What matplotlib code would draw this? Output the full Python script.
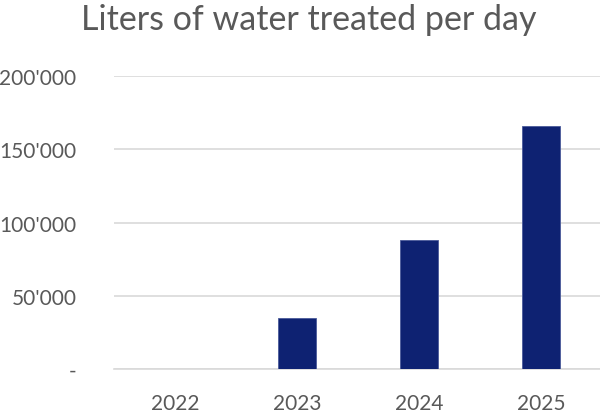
import matplotlib
matplotlib.use("Agg")
import matplotlib.pyplot as plt
from matplotlib.ticker import FuncFormatter

# data
years = ["2022", "2023", "2024", "2025"]
liters = [0, 34800, 88000, 166000]
yticks = [0, 50000, 100000, 150000, 200000]

plt.rcParams['font.family'] = ['Lato', 'DejaVu Sans']

fig = plt.figure(figsize=(6.0, 4.14), dpi=100)
ax = fig.add_axes([0.19, 0.106, 0.813, 0.708])

x = range(len(years))
ax.bar(x, liters, width=0.31, color="#0E2272", edgecolor="#4A5A9A", linewidth=0.6, zorder=3)

ax.set_xlim(-0.5, len(years) - 0.5)
ax.set_ylim(0, 200000)
ax.set_yticks(yticks)
ax.yaxis.set_major_formatter(FuncFormatter(lambda v, p: "-" if v == 0 else f"{int(v):,}".replace(",", "'")))
ax.set_xticks(list(x))
ax.set_xticklabels(years)

ax.grid(axis="y", color="#D9D9D9", linewidth=1.2, zorder=0)
for s in ["top", "right", "left"]:
    ax.spines[s].set_visible(False)
ax.spines["bottom"].set_color("#D9D9D9")
ax.spines["bottom"].set_linewidth(1.2)
ax.tick_params(axis="both", length=0, colors="#595959", labelsize=15)
ax.tick_params(axis="y", pad=27)
ax.tick_params(axis="x", pad=17)

fig.suptitle("Liters of water treated per day", x=0.515, y=0.99, fontsize=24.5,
             color="#595959")

fig.savefig("out.png", dpi=100)
